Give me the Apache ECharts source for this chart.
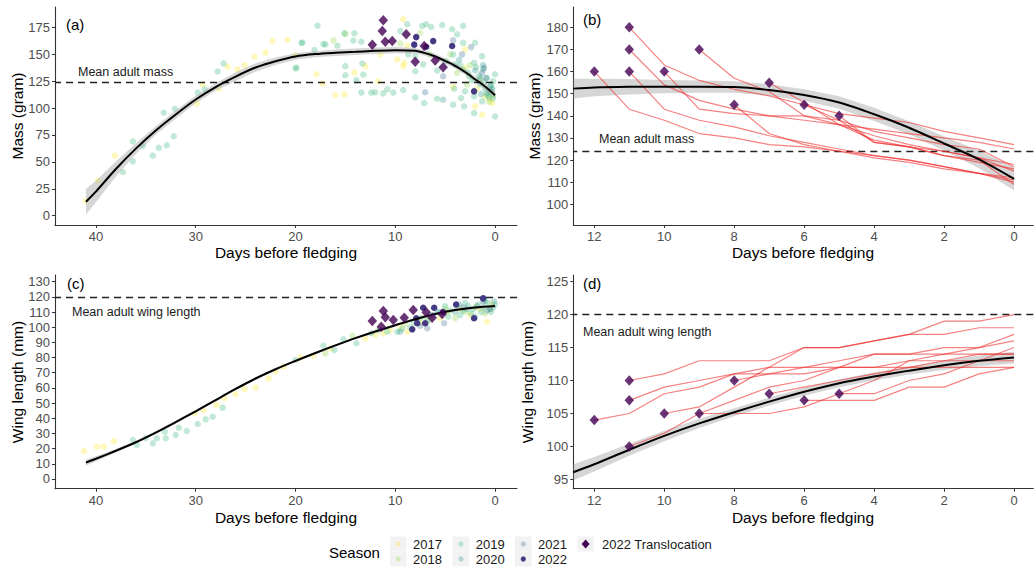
<!DOCTYPE html>
<html><head><meta charset="utf-8">
<script src="https://cdn.jsdelivr.net/npm/echarts@6/dist/echarts.min.js"></script>
<style>html,body{margin:0;padding:0;background:#fff}#c{width:1034px;height:568px}</style>
</head><body><div id="c"></div>
<script>
// ---------- DATA ----------
const seasons = ['2017','2018','2019','2020','2021','2022'];
const seasonColors = ['#FDE725','#8FD744','#35B779','#21908C','#31688E','#443A83'];
const seasonAlpha = [0.3,0.3,0.3,0.3,0.3,1];
const transColor = '#440154';
const transLabel = '2022 Translocation';

// Panel (a): mass scatter [days before fledging, mass]
const massA2017 = [[41.0,13.7],[39.8,32.7],[38.1,55.8],[29.9,104.4],[29.3,122],[27.7,118],[26.8,138.7],[25.8,136],[25.1,140],[24.1,147.7],[23.0,151.8],[22.3,162.6],[20.8,163.6],[20,149],[17.9,131.5],[17.3,122.8],[16,112],[15.1,112.8],[14.1,133],[13,139],[11.7,125],[9.2,182.6],[9.8,145.2],[9.2,139],[9.1,142],[3,154.6],[2,101.6],[1.3,93.8],[0.3,104.7],[1.0,111],[3,137.4],[0.5,108],[4.2,120],[1.8,118],[11.5,150],[8.8,158]];
const massA2018 = [[15,169],[16.2,163],[7.5,170],[3.8,132.7],[2.5,140],[1.5,126],[0.2,112],[4.5,150],[9.5,160],[6.5,150],[2.8,122],[0.6,106]];
const massA2019 = [[37.3,40.6],[36.3,50.5],[36.3,69],[35.3,65],[34.3,55.8],[33.7,63],[32.9,65.4],[32.2,73.8],[33.2,95.7],[32.1,99.4],[29.8,114.4],[29.1,117.5],[27.8,134],[27.2,141.5],[19.4,160.5],[20.0,136.8],[17.8,176.6],[19.3,161],[18.1,154],[17.2,159.5],[15.1,169.5],[14.2,162.6],[13.4,161.7],[14.1,169.5],[15.8,158],[19.9,137.7],[15,139],[13.3,141.5],[13.9,125.9],[13.4,114.4],[12.4,114.4],[11.2,113.7],[10.8,117.5],[10.2,114.4],[9.2,116.8],[8.8,178],[9.5,171.7],[7.3,176.4],[6.9,178],[6.4,175.4],[5.3,177.3],[4.3,173.3],[3.2,176.4],[2.0,160.7],[3.2,160.7],[3.8,168.6],[8.0,134.3],[7.2,140.6],[5.8,135],[4.2,149.9],[4.0,140.6],[3.2,135.9],[2.6,129.6],[2.1,142],[1.3,148.3],[1.2,135.9],[0.8,128],[1.5,121.9],[0.3,118.7],[0,131.5],[0.2,109.3],[0,92.2],[1.3,106.3],[2.1,111],[3.0,115.6],[3.4,109.3],[4.1,118.1],[4.2,103.2],[5.8,108.7],[3.1,101.6],[2.1,95.3],[8.0,110],[7.1,104.6],[12,114.7],[13.2,131.2],[15,130.5],[17,159.2],[8.7,150],[8.0,148.3],[4.9,143.6],[0.5,115],[1,118],[0.8,112],[0.4,122],[1.6,130],[2.3,126],[1.1,124],[0.2,125],[0.6,110],[2.7,133],[3.5,140],[1.9,138]];
const massA2020 = [[5.2,107.8],[1.5,128],[0.8,114],[0.3,117],[1.2,140],[2.0,135],[0.5,120],[3.6,145],[1.4,113]];
const massA2021 = [[4.2,163],[2.4,156.7],[7.0,114.7],[1.1,137.4],[1.3,132.7],[5.2,129.6],[0.9,128],[3.3,150]];
const massA2022 = [[7.9,166],[8.1,159],[6.2,162.3],[4.3,157.7],[2.1,115.6],[6.9,157]];
const massATrans = [[12.3,159],[11.2,181.7],[11.3,171.7],[11.0,161.7],[10.3,162.3],[8.9,168.6],[8.0,143],[7.1,157.7],[6.0,144.3],[5.2,138]];

// Panel (a) fitted curve and standard error
const fitDaysA = [41,40,38,36,34,32,30,28,26,24,22,20,18,16,14,12,10,8,7,6,5,4,3,2,1,0];
const fitMassA = [13,22.4,43.4,62.3,79.2,94.1,108,119.6,129.3,137.7,143.6,148,150.2,151.4,152.3,153.3,153.9,153.3,151.1,148,143.9,139.3,133.6,126.8,120,111.9];
const fitSeA   = [12,10,7,5,4,4,3.5,3.5,4,4,3.5,3,3,3,3,3,3,2.5,2.5,2.5,2.5,2.5,2.5,2.5,3,3.5];

// Panel (b): fitted curve
const fitDaysB = [12.6,12,11,10,9,8,7,6,5,4,3,2,1,0];
const fitMassB = [152.3,152.8,153.1,153.2,153.2,153,151.7,149.4,146,140.7,134.6,127.5,120.3,111.5];
const fitSeB   = [4.5,4,3.5,3,2.8,2.6,2.6,2.6,2.8,3,3,3.2,4,5.3];

// Translocated birds: first measurement day, then daily values down to day 0
const birdStart = [12,11,11,11,10,9,8,7,6,5];
const birdMass = [
  [160,143,138,132,130,127,126,124,122,120,117,114,112],
  [180,163,156,152,149,145,141,139,137,133,130,127],
  [170,154,147,143,140,138,136,134,132,130,128,125],
  [160,143,138,135,131,128,125,122,120,117,114,111],
  [160,143,141,140,140,138,133,130,127,125,117],
  [170,157,151,140,136,129,126,122,119,116],
  [145,132,127,124,121,119,116,114,110],
  [155,146,136,131,127,124,121,118],
  [145,138,128,126,124,121,115],
  [140,128,126,122,120,109]
];
const birdWing = [
  [104,105,108,109,111,111,112,112,112,113,113,114,114],
  [110,111,113,113,113,115,115,116,117,117,118,118],
  [107,109,110,111,112,112,113,114,114,115,115,116],
  [100,102,105,107,109,110,112,114,114,114,114,114],
  [105,106,109,112,115,115,116,117,119,119,120],
  [105,105,105,106,108,110,113,114,115,117],
  [110,111,111,112,112,112,112,112,112],
  [108,109,110,111,112,113,113,115],
  [107,107,107,109,109,111,112],
  [108,108,110,111,113,113]
];

// Panel (c): wing scatter
const wingC2017 = [[41.2,18.4],[39.9,21.3],[39.2,21.3],[38.2,25],[29.2,45.5],[30.1,43.3],[27.9,48.7],[27.1,53.2],[26,55.8],[25.1,59.1],[24,60.2],[22.7,66.3],[22,70.7],[21.2,74],[19.5,80],[18.2,81.2],[16.5,86],[13,92.7],[12,95],[10.5,98],[9.5,100],[8.8,97],[7.5,103],[5.5,106],[3.5,112],[2.5,108],[0.8,103.6],[1.5,112],[0.3,115],[4.8,110],[11.2,96]];
const wingC2018 = [[17,82.8],[14.3,94.4],[9,102],[6.5,105],[4,106],[3,110],[2,113],[1,109],[0.5,112],[5,112],[11.5,99],[7,107]];
const wingC2019 = [[35.9,22.4],[36.3,25.7],[35,26.8],[34.3,23.5],[33.9,26.8],[33.1,31.2],[33,26.8],[32,29],[31.7,33.8],[30.9,31.6],[29.8,36.2],[29,39.3],[28.3,41],[27.3,47],[20,78.4],[17.2,87.8],[16.1,85],[15.2,92],[13.9,89.4],[12.4,96],[11.7,98],[10.8,97],[9.8,97],[8.5,100],[7.5,106],[6.2,108],[5.5,110],[4.5,111],[3.8,113],[3.2,111],[2.7,114],[2.2,112],[1.7,115],[1.2,113],[0.7,116],[0.2,113],[0.4,110],[1.4,110],[2.4,109],[3.5,108],[4.7,107],[6.8,104],[8.1,103],[9.3,99],[1,117],[3,116],[0,115],[5,114],[2,107]];
const wingC2020 = [[9.5,97],[6.6,108],[4,110],[2.8,112],[1.8,114],[0.8,111],[0.1,117],[1.1,119],[3.6,115],[5.8,110]];
const wingC2021 = [[6.8,99.3],[5.1,102.6],[1.2,117],[3.2,113],[0.5,112],[7.5,101]];
const wingC2022 = [[7.2,112.8],[6.1,112.8],[8.3,98.6],[7.8,102.6],[7,102.6],[3.9,115],[2.1,105.9],[1.2,119],[7.9,105.9],[5.2,110]];
const wingCTrans = [[12.3,104.1],[11.2,110.7],[11,106.5],[11.4,100.3],[10.2,104.7],[9.1,106.3],[8.2,111.3],[6.9,109.8],[6.3,106.3],[5.3,108.7]];

const fitDaysC = [41,40,38,36,34,32,30,28,26,24,22,20,18,16,14,12,10,8,6,4,2,0];
const fitWingC = [10.8,13.3,18.6,24.2,30.6,37.5,44.6,52,59.3,66.2,72.3,77.8,83,88,92.8,97.2,101.3,105.3,108.7,111.3,113,114];
const fitSeC   = [2,1.6,1.2,1,1,1,1,0.8,0.8,0.8,0.8,0.8,0.8,0.8,0.8,0.8,0.8,0.8,0.8,0.8,0.8,1];

const fitDaysD = [12.6,12,11,10,9,8,7,6,5,4,3,2,1,0];
const fitWingD = [96.1,97.3,99.5,101.6,103.5,105.2,106.8,108.3,109.6,110.6,111.5,112.3,113,113.5];
const fitSeD   = [1.2,1.1,0.9,0.8,0.7,0.6,0.6,0.6,0.6,0.6,0.6,0.7,0.8,0.9];

const meanAdultMass = 124;
const meanAdultWing = 120;

const ticksXA = [0,10,20,30,40];
const ticksYA = [0,25,50,75,100,125,150,175];
const ticksXB = [0,2,4,6,8,10,12];
const ticksYB = [100,110,120,130,140,150,160,170,180];
const ticksYC = [0,10,20,30,40,50,60,70,80,90,100,110,120,130];
const ticksYD = [95,100,105,110,115,120,125];

// ---------- CHART ----------
const FONT = '"Liberation Sans", Arial, Helvetica, sans-serif';
const chart = echarts.init(document.getElementById('c'), null, {renderer:'svg'});

function xAx(g, min, max, ticks){
  return {type:'value', gridIndex:g, inverse:true, min, max,
    axisLine:{show:true, onZero:false, lineStyle:{color:'#333', width:1.1}},
    axisTick:{show:true, length:3, lineStyle:{color:'#333'}, customValues:ticks},
    axisLabel:{color:'#4D4D4D', fontSize:13, fontFamily:FONT, margin:5, customValues:ticks},
    splitLine:{show:false}};
}
function yAx(g, min, max, ticks){
  return {type:'value', gridIndex:g, min, max,
    axisLine:{show:true, onZero:false, lineStyle:{color:'#333', width:1.1}},
    axisTick:{show:true, length:3, lineStyle:{color:'#333'}, customValues:ticks},
    axisLabel:{color:'#4D4D4D', fontSize:13, fontFamily:FONT, margin:5, customValues:ticks},
    splitLine:{show:false}};
}
function scatter(g, data, color, alpha, z){
  return {type:'scatter', xAxisIndex:g, yAxisIndex:g, data, symbolSize:6.5, silent:true, z,
    itemStyle:{color, opacity:alpha}};
}
function trans(g, data){
  return {type:'scatter', xAxisIndex:g, yAxisIndex:g, data, symbol:'diamond', symbolSize:[9.5,10.5], silent:true, z:8,
    itemStyle:{color:transColor}};
}
function band(g, days, fit, se){
  return {type:'custom', xAxisIndex:g, yAxisIndex:g, data:[0], silent:true, z:4,
    renderItem:function(params, api){
      const up = days.map((d,i)=>api.coord([d, fit[i]+se[i]]));
      const lo = days.map((d,i)=>api.coord([d, fit[i]-se[i]])).reverse();
      return {type:'polygon', shape:{points:up.concat(lo)}, style:{fill:'rgba(153,153,153,0.4)'}};
    }};
}
function curve(g, days, fit, refY){
  return {type:'line', xAxisIndex:g, yAxisIndex:g, data:days.map((d,i)=>[d,fit[i]]), smooth:0.3,
    symbol:'none', silent:true, z:7, lineStyle:{color:'#000', width:2},
    markLine:{silent:true, symbol:'none', label:{show:false}, animation:false,
      lineStyle:{color:'#222', width:1.4, type:[7,5]}, data:[{yAxis:refY}]}};
}
function birdLines(g, values){
  return values.map((arr,b)=>({type:'line', xAxisIndex:g, yAxisIndex:g, silent:true, z:6,
    data:arr.map((v,i)=>[birdStart[b]-i, v]), symbol:'none',
    lineStyle:{color:'rgba(240,45,45,0.6)', width:1.2}}));
}

const series = [];
const massA = [massA2017,massA2018,massA2019,massA2020,massA2021,massA2022];
const wingC = [wingC2017,wingC2018,wingC2019,wingC2020,wingC2021,wingC2022];
massA.forEach((d,i)=>series.push(scatter(0, d, seasonColors[i], seasonAlpha[i], i===5?5:2)));
series.push(band(0, fitDaysA, fitMassA, fitSeA));
series.push(curve(0, fitDaysA, fitMassA, meanAdultMass));
series.push(trans(0, massATrans));

series.push(band(1, fitDaysB, fitMassB, fitSeB));
birdLines(1, birdMass).forEach(s=>series.push(s));
series.push(curve(1, fitDaysB, fitMassB, meanAdultMass));
series.push(trans(1, birdMass.map((a,b)=>[birdStart[b], a[0]])));

wingC.forEach((d,i)=>series.push(scatter(2, d, seasonColors[i], seasonAlpha[i], i===5?5:2)));
series.push(band(2, fitDaysC, fitWingC, fitSeC));
series.push(curve(2, fitDaysC, fitWingC, meanAdultWing));
series.push(trans(2, wingCTrans));

series.push(band(3, fitDaysD, fitWingD, fitSeD));
birdLines(3, birdWing).forEach(s=>series.push(s));
series.push(curve(3, fitDaysD, fitWingD, meanAdultWing));
series.push(trans(3, birdWing.map((a,b)=>[birdStart[b], a[0]])));

// ---------- TEXT & LEGEND ----------
function txt(x, y, text, size, opts){
  return Object.assign({type:'text', x, y, silent:true, z:100,
    style:{text, fill:(opts&&opts.fill)||'#000', font:size+'px '+FONT,
      align:(opts&&opts.align)||'left', verticalAlign:'middle',
      textAlign:(opts&&opts.align)||'left', textVerticalAlign:'middle'}}, (opts&&opts.extra)||{});
}
const graphic = [
  txt(66, 24, '(a)', 15), txt(583, 19, '(b)', 15), txt(67, 283, '(c)', 15), txt(583, 283, '(d)', 15),
  txt(78, 72, 'Mean adult mass', 12.5, {fill:'#1A1A1A'}),
  txt(599, 139, 'Mean adult mass', 12.5, {fill:'#1A1A1A'}),
  txt(72, 312, 'Mean adult wing length', 12.5, {fill:'#1A1A1A'}),
  txt(583, 332, 'Mean adult wing length', 12.5, {fill:'#1A1A1A'}),
  txt(286, 252, 'Days before fledging', 15.5, {align:'center'}),
  txt(803, 252, 'Days before fledging', 15.5, {align:'center'}),
  txt(286, 517, 'Days before fledging', 15.5, {align:'center'}),
  txt(803, 517, 'Days before fledging', 15.5, {align:'center'}),
  txt(17, 116, 'Mass (gram)', 15.5, {align:'center', extra:{rotation:Math.PI/2}}),
  txt(534, 116, 'Mass (gram)', 15.5, {align:'center', extra:{rotation:Math.PI/2}}),
  txt(17, 382, 'Wing length (mm)', 15.5, {align:'center', extra:{rotation:Math.PI/2}}),
  txt(527, 382, 'Wing length (mm)', 15.5, {align:'center', extra:{rotation:Math.PI/2}}),
  txt(329, 552.5, 'Season', 15)
];
const legCols = [390, 452.7, 515];
seasons.forEach((s,i)=>{
  const col = Math.floor(i/2), row = i%2;
  const x0 = legCols[col], y0 = 536.5 + row*15;
  graphic.push({type:'rect', shape:{x:x0, y:y0, width:16.6, height:15}, style:{fill:'#F2F2F2'}, silent:true, z:90});
  graphic.push({type:'circle', shape:{cx:x0+8.3, cy:y0+7.5, r:2.6}, style:{fill:seasonColors[i], opacity:seasonAlpha[i]}, silent:true, z:91});
  graphic.push(txt(x0+23, y0+7.5, s, 13, {fill:'#1A1A1A'}));
});
graphic.push({type:'rect', shape:{x:577.3, y:536.5, width:16.6, height:15}, style:{fill:'#F2F2F2'}, silent:true, z:90});
graphic.push({type:'polygon', shape:{points:[[585.6,539.5],[589.6,544],[585.6,548.5],[581.6,544]]}, style:{fill:transColor}, silent:true, z:91});
graphic.push(txt(602, 544, transLabel, 13, {fill:'#1A1A1A'}));

chart.setOption({
  animation:false,
  backgroundColor:'#fff',
  grid:[
    {left:55, top:7, width:462, height:218},
    {left:573.3, top:7, width:460, height:218},
    {left:55, top:275, width:462, height:213.7},
    {left:573.3, top:275, width:460, height:213.7}
  ],
  xAxis:[xAx(0,-2.2,44.1,ticksXA), xAx(1,-0.55,12.6,ticksXB), xAx(2,-2.2,44.1,ticksXA), xAx(3,-0.55,12.6,ticksXB)],
  yAxis:[yAx(0,-8.7,194,ticksYA), yAx(1,90.65,189.2,ticksYB), yAx(2,-6.4,134.4,ticksYC), yAx(3,93.6,126,ticksYD)],
  series,
  graphic
});
</script></body></html>
